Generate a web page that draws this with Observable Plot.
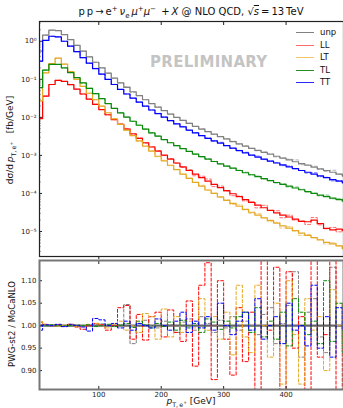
<!DOCTYPE html>
<html><head><meta charset="utf-8">
<script src="https://cdn.jsdelivr.net/npm/d3@7"></script>
<script src="https://cdn.jsdelivr.net/npm/@observablehq/plot@0.6"></script>
<style>
body{margin:0;background:#fff;font-family:"DejaVu Sans",sans-serif;}
#wrap{position:relative;width:343px;height:408px;overflow:hidden;}
.abs{position:absolute;}
sub,sup{font-size:70%;line-height:0;}
</style></head><body><div id="wrap"></div>
<script>
// bin lower edges (GeV), bins are 10 GeV wide
const binStart = [0,10,20,30,40,50,60,70,80,90,100,110,120,130,140,150,160,170,180,190,200,210,220,230,240,250,260,270,280,290,300,310,320,330,340,350,360,370,380,390,400,410,420,430,440,450,460,470,480,490];
const seriesNames = ["unp","LL","LT","TL","TT"];
// dsigma/dpT [fb/GeV] (MoCaNLO, solid)
const unp = [0.55,1.45,1.95,1.9,1.5,1.1,0.78,0.55,0.39,0.28, 0.2,0.145,0.107,0.08,0.061,0.047,0.037,0.029,0.023,0.0185, 0.015,0.0122,0.01,0.0083,0.0069,0.0058,0.0049,0.0042,0.0036,0.0031, 0.0027,0.0023,0.002,0.00175,0.00153,0.00135,0.0012,0.00107,0.00095,0.00085, 0.00076,0.00068,0.00061,0.00055,0.00049,0.00044,0.0004,0.00036,0.00032,0.00029];
const LL = [0.0093,0.036,0.073,0.094,0.088,0.072,0.055,0.041,0.03,0.022, 0.016,0.0117,0.0087,0.0065,0.0049,0.0037,0.0028,0.00215,0.00166,0.00129, 0.00101,0.0008,0.00063,0.0005,0.0004,0.00032,0.00026,0.00021,0.000172,0.000142, 0.000118,0.000098,0.000082,0.000069,0.000058,0.000049,0.000042,0.000036,0.000031,0.000027, 0.000024,0.000021,0.0000185,0.000018,0.00002,0.000016,0.000012,0.000011,0.0000115,0.0000105];
const LT = [0.027,0.148,0.26,0.36,0.25,0.16,0.1,0.065,0.043,0.029, 0.0197,0.0132,0.0091,0.0065,0.0046,0.0033,0.0024,0.00174,0.00129,0.00095, 0.00072,0.00055,0.00042,0.00032,0.00025,0.000195,0.000155,0.000123,0.0001,0.000081, 0.000066,0.000055,0.000046,0.000038,0.000032,0.0000269,0.0000229,0.0000195,0.0000166,0.0000141, 0.0000123,0.0000105,0.0000091,0.0000079,0.0000069,0.000006,0.0000052,0.0000047,0.0000042,0.0000036];
const TL = [0.06,0.175,0.245,0.245,0.2,0.15,0.11,0.08,0.058,0.042, 0.031,0.023,0.0172,0.0131,0.0101,0.0079,0.0062,0.0049,0.0039,0.0032, 0.0026,0.00215,0.0018,0.0015,0.00127,0.00108,0.00093,0.0008,0.00069,0.0006, 0.00052,0.00046,0.0004,0.00035,0.00031,0.000275,0.000245,0.000218,0.000194,0.000173, 0.000155,0.000139,0.000125,0.000112,0.0001,0.00009,0.000082,0.000075,0.000069,0.000064];
const TT = [0.3,1.05,1.35,1.3,1.0,0.74,0.53,0.37,0.265,0.19, 0.136,0.099,0.073,0.054,0.041,0.032,0.025,0.0196,0.0156,0.0125, 0.0101,0.0082,0.0067,0.0056,0.0046,0.0039,0.0033,0.0028,0.0024,0.0021, 0.0018,0.00155,0.00134,0.00117,0.00102,0.0009,0.0008,0.00071,0.00063,0.00056, 0.0005,0.00045,0.0004,0.00036,0.00032,0.00029,0.00026,0.00023,0.00021,0.00019];
// ratio PWG-st2 / MoCaNLO
const r_unp = [1.002,1.001,1.000,1.001,1.000,0.999,1.001,1.000,1.002,1.003, 1.004,1.000,0.998,1.002,1.047,0.960,1.005,1.012,1.000,0.995, 1.010,1.002,0.985,1.008,1.015,0.990,1.020,1.005,0.985,1.012, 0.995,1.020,0.990,1.010,1.000,0.980,1.025,1.040,0.960,1.005, 1.045,1.120,0.930,1.030,1.060,0.975,0.940,1.130,1.000,0.970];
const r_LL = [1.008,1.003,1.000,1.002,0.998,1.003,0.997,0.992,1.000,1.005, 1.002,0.990,1.000,1.040,1.045,0.970,1.025,0.968,1.020,1.030, 0.975,1.035,0.985,0.965,1.055,0.910,1.090,1.140,0.880,1.100, 0.970,0.890,1.040,0.920,1.030,0.850,1.160,0.990,1.130,0.850, 1.120,0.950,1.020,0.850,1.160,0.930,0.980,1.160,0.850,1.050];
const r_LT = [1.009,1.002,1.000,0.999,1.001,1.002,0.998,1.000,1.003,1.005, 1.000,0.995,1.004,1.010,0.990,1.000,0.985,1.027,1.020,0.970, 1.037,0.975,1.020,0.985,1.010,0.995,1.060,0.990,1.020,0.970, 1.030,0.935,1.090,0.975,0.940,1.090,1.000,0.930,1.050,0.870, 1.100,0.980,0.870,1.060,0.990,1.020,0.900,1.080,1.000,0.960];
const r_TL = [1.001,1.000,1.002,1.000,0.999,1.000,1.001,1.000,1.002,0.998, 1.000,1.003,0.998,1.001,1.005,0.996,1.010,1.002,0.995,1.005, 0.998,1.008,0.990,1.012,0.995,1.005,0.985,1.015,1.008,0.992, 1.010,0.995,1.020,1.030,0.985,1.040,0.975,1.010,0.970,1.030, 0.955,1.060,1.030,0.980,1.010,0.960,1.100,0.965,1.050,0.940];
const r_TT = [0.990,1.002,1.000,1.003,0.998,1.003,1.000,0.997,0.988,1.016, 1.013,1.000,1.005,0.995,1.010,0.990,1.005,1.000,0.995,1.015, 1.000,0.990,1.010,1.030,0.985,1.010,0.995,1.020,0.990,1.050, 1.000,0.980,1.010,1.030,0.990,1.060,0.970,1.000,1.020,0.960, 1.050,0.990,1.000,0.955,1.090,0.950,1.020,0.930,1.040,0.990];
// axis ticks
const xTicks = [100,200,300,400];
const yMajor = [1e-5,1e-4,1e-3,1e-2,1e-1,1];
const yMajorLabels = ["10\u207B\u2075","10\u207B\u2074","10\u207B\u00B3","10\u207B\u00B2","10\u207B\u00B9","10\u2070"];
const yMinor = [3e-6,4e-6,5e-6,6e-6,7e-6,8e-6,9e-6,2e-5,3e-5,4e-5,5e-5,6e-5,7e-5,8e-5,9e-5,2e-4,3e-4,4e-4,5e-4,6e-4,7e-4,8e-4,9e-4,2e-3,3e-3,4e-3,5e-3,6e-3,7e-3,8e-3,9e-3,2e-2,3e-2,4e-2,5e-2,6e-2,7e-2,8e-2,9e-2,0.2,0.3,0.4,0.5,0.6,0.7,0.8,0.9,2,3];
const rTicks = [0.90,0.95,1.00,1.05,1.10];

const colors = {unp:"#808080", LL:"#ff0000", LT:"#e5a823", TL:"#0a8a0a", TT:"#0000ff"};
const legendColors = {unp:"#808080", LL:"#ff6b6b", LT:"#f0c46a", TL:"#2a8a2a", TT:"#2a2aff"};
const topVals = {unp, LL, LT, TL, TT};
const ratioVals = {unp:r_unp, LL:r_LL, LT:r_LT, TL:r_TL, TT:r_TT};

function steps(name, vals){
  const pts = binStart.map((x,i)=>({x, y: vals[i], s: name}));
  pts.push({x: binStart[binStart.length-1]+10, y: vals[vals.length-1], s: name});
  return pts;
}
const solidTop = seriesNames.flatMap(n => steps(n, topVals[n]));
const dashTop = seriesNames.flatMap(n => steps(n, topVals[n].map((v,i)=>v*ratioVals[n][i])));
const ratioData = seriesNames.flatMap(n => steps(n, ratioVals[n]));

const font = {fontFamily:"DejaVu Sans", fontSize:"7px", color:"#222", background:"transparent", overflow:"visible"};
const xDom = [5,492];

const topPlot = Plot.plot({
  width:343, height:260, marginTop:21, marginBottom:4, marginLeft:39, marginRight:0,
  style: font,
  x:{domain:xDom}, y:{type:"log", domain:[2.2e-6,3.3]},
  marks:[
    Plot.axisY({ticks:yMinor, tickSize:-1.5, tickFormat:()=>"", label:null, strokeWidth:0.8}),
    Plot.axisY({ticks:yMajor, tickSize:-3, tickPadding:6, tickFormat:(d)=>yMajorLabels[yMajor.indexOf(d)], label:null}),
    Plot.axisX({anchor:"top", ticks:xTicks, tickSize:-3, tickFormat:()=>"", label:null}),
    Plot.axisX({anchor:"bottom", ticks:xTicks, tickSize:3, tickFormat:()=>"", label:null}),
    Plot.line(dashTop, {x:"x", y:"y", z:"s", stroke:d=>colors[d.s], curve:"step-after", strokeWidth:1, strokeDasharray:"3,2", strokeOpacity:0.55, clip:true}),
    Plot.line(solidTop, {x:"x", y:"y", z:"s", stroke:d=>colors[d.s], curve:"step-after", strokeWidth:1.2, clip:true}),
    Plot.frame({stroke:"#222", strokeWidth:1.2})
  ]
});
topPlot.style.position="absolute"; topPlot.style.left="0px"; topPlot.style.top="0px";

const bottomPlot = Plot.plot({
  width:343, height:152, marginTop:4, marginBottom:19, marginLeft:39, marginRight:0,
  style: font,
  x:{domain:xDom}, y:{domain:[0.858,1.145]},
  marks:[
    Plot.ruleY([1], {stroke:"#666", strokeWidth:2.2}),
    Plot.line(ratioData, {x:"x", y:"y", z:"s", stroke:d=>colors[d.s], curve:"step-after", strokeWidth:1, strokeDasharray:"3,2", clip:true}),
    Plot.axisY({ticks:rTicks, tickSize:-3, tickPadding:6, tickFormat:d3.format(".2f"), label:null}),
    Plot.axisX({ticks:xTicks, tickSize:-3, tickPadding:6, tickFormat:d=>String(d), label:null}),
    Plot.axisX({anchor:"top", ticks:xTicks, tickSize:-3, tickFormat:()=>"", label:null}),
    Plot.frame({stroke:"#777", strokeWidth:2})
  ]
});
bottomPlot.style.position="absolute"; bottomPlot.style.left="0px"; bottomPlot.style.top="256px";

const wrap = document.getElementById("wrap");
wrap.appendChild(topPlot);
wrap.appendChild(bottomPlot);

function add(html, css){
  const d = document.createElement("div");
  d.className="abs"; d.innerHTML = html; Object.assign(d.style, css); wrap.appendChild(d); return d;
}
add('p\u2009p\u2009\u2192\u2009e<sup>+</sup>\u2009<i>\u03BD</i><sub>e</sub>\u2009<i>\u03BC</i><sup>+</sup><i>\u03BC</i><sup>\u2212</sup> \u2009+\u2009<i>X</i> @ NLO QCD, \u221A<span style="text-decoration:overline"><i>s</i></span>\u2009=\u200913\u2009TeV',
  {left:"39px", width:"304px", top:"6px", textAlign:"center", fontSize:"10px", whiteSpace:"nowrap", color:"#111"});
add('PRELIMINARY', {left:"150px", top:"53px", fontSize:"15px", fontWeight:"bold", color:"#c4c4c4", letterSpacing:"0.3px"});
add('d\u03C3/d\u2009<i>p</i><sub>T,\u2009e<sup>+</sup></sub>&nbsp;&nbsp;&nbsp;[fb/GeV]',
  {left:"10px", top:"140px", fontSize:"9px", whiteSpace:"nowrap", transform:"translate(-50%,-50%) rotate(-90deg)", color:"#111"});
add('PWG-st2 / MoCaNLO',
  {left:"12px", top:"324px", fontSize:"8.5px", whiteSpace:"nowrap", transform:"translate(-50%,-50%) rotate(-90deg)", color:"#111"});
add('<i>p</i><sub>T,\u2009e<sup>+</sup></sub> [GeV]', {left:"191px", top:"396px", fontSize:"9px", whiteSpace:"nowrap", transform:"translateX(-50%)", color:"#111"});
// legend
seriesNames.forEach((n,i)=>{
  const y = 33 + i*12.5;
  add('', {left:"296px", top:(y-0.6)+"px", width:"18px", height:"0px", borderTop:"1.3px solid "+legendColors[n]});
  add(n, {left:"320px", top:(y-6)+"px", fontSize:"8.5px", color:"#111"});
});
</script></body></html>
